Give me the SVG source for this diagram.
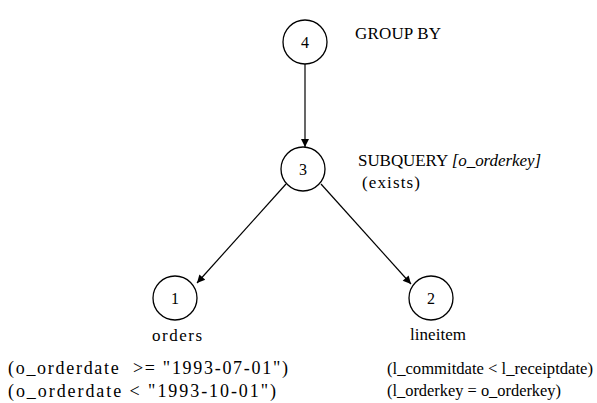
<svg xmlns="http://www.w3.org/2000/svg" width="597" height="403" viewBox="0 0 597 403">
<style>
text{font-family:"Liberation Serif","Times New Roman",serif;font-size:17px;fill:#000}
.n circle{fill:#fff;stroke:#000;stroke-width:1.3}
.num{text-anchor:middle;font-size:16px}
.p{font-size:18px}
.r{font-size:17px}
.e{stroke:#000;stroke-width:1.2;fill:none;marker-end:url(#ah)}
</style>
<defs>
<marker id="ah" viewBox="0 0 10 10" refX="10" refY="5" markerWidth="11" markerHeight="8" markerUnits="userSpaceOnUse" orient="auto">
<path d="M0,0 L10,5 L0,10 z" fill="#000"/>
</marker>
</defs>
<g id="connectors">
<line class="e" x1="305" y1="64" x2="305" y2="147"/>
<line class="e" x1="286" y1="184" x2="197" y2="283"/>
<line class="e" x1="321" y1="184" x2="411" y2="284"/>
</g>
<g id="node4" class="n">
<circle cx="305" cy="42" r="22"/>
<text class="num" x="305" y="48">4</text>
<text x="355" y="39" textLength="86">GROUP BY</text>
</g>
<g id="node3" class="n">
<circle cx="303" cy="169" r="22"/>
<text class="num" x="303" y="175">3</text>
<text x="358" y="166" textLength="183">SUBQUERY <tspan font-style="italic">[o_orderkey]</tspan></text>
<text x="362" y="188" textLength="58">(exists)</text>
</g>
<g id="node1" class="n">
<circle cx="175" cy="298" r="22"/>
<text class="num" x="175" y="304">1</text>
<text x="152" y="341" font-size="18" textLength="50">orders</text>
<text class="p" x="8" y="374" textLength="280" xml:space="preserve">(o_orderdate  &gt;= "1993-07-01")</text>
<text class="p" x="8" y="397" textLength="268">(o_orderdate &lt; "1993-10-01")</text>
</g>
<g id="node2" class="n">
<circle cx="431" cy="298" r="22"/>
<text class="num" x="431" y="304">2</text>
<text x="410" y="340" font-size="18" textLength="56">lineitem</text>
<text class="r" x="387" y="374" textLength="206" lengthAdjust="spacingAndGlyphs">(l_commitdate &lt; l_receiptdate)</text>
<text class="r" x="387" y="396" textLength="174" lengthAdjust="spacingAndGlyphs">(l_orderkey = o_orderkey)</text>
</g>
</svg>
